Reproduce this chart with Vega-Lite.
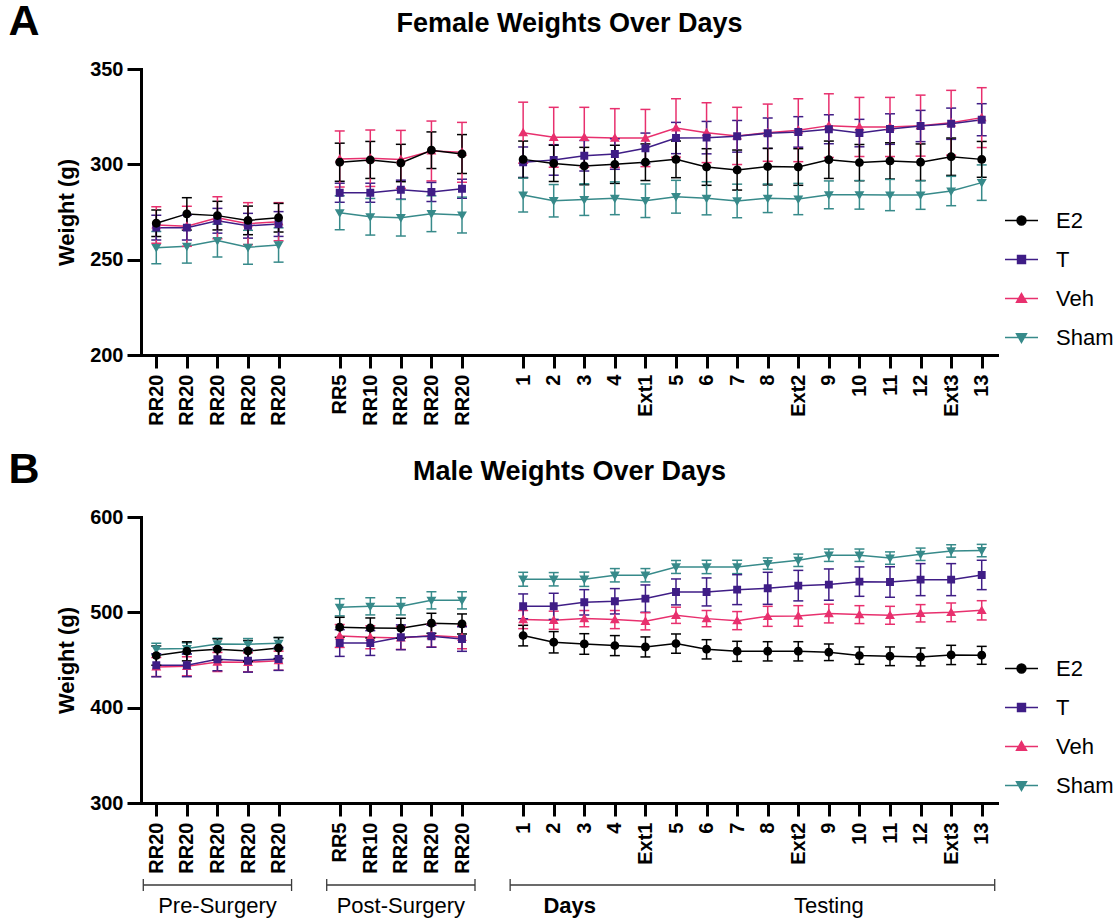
{
"$schema": "https://vega.github.io/schema/vega-lite/v6.json",
"padding": {"left": 8, "right": 5, "top": 1, "bottom": 2},
"config": {"font": "Liberation Sans", "view": {"stroke": null}, "axis": {"labelColor": "black", "titleColor": "black", "domainColor": "black", "tickColor": "black", "grid": false}},
"spacing": 5,
"resolve": {"scale": {"color": "independent", "fill": "independent", "stroke": "independent", "shape": "independent"}, "legend": {"color": "independent", "fill": "independent", "stroke": "independent", "shape": "independent"}},
"datasets": {
"brackets": [{"start": "RR20_a", "end": "RR20_e"}, {"start": "RR5_f", "end": "RR20_j"}, {"start": "1", "end": "13"}],
"grouplabels": [{"label": "Pre-Surgery", "at": "RR20_c"}, {"label": "Post-Surgery", "at": "RR20_h"}, {"label": "Days", "at": "2"}, {"label": "Testing", "at": "9"}],
"w": [
{"sex":"F","group":"Sham","day":"RR20_a","phase":"pre","mean":256.3,"sem":8.5},
{"sex":"F","group":"Sham","day":"RR20_b","phase":"pre","mean":257.0,"sem":8.8},
{"sex":"F","group":"Sham","day":"RR20_c","phase":"pre","mean":260.0,"sem":8.6},
{"sex":"F","group":"Sham","day":"RR20_d","phase":"pre","mean":256.5,"sem":8.9},
{"sex":"F","group":"Sham","day":"RR20_e","phase":"pre","mean":257.7,"sem":9.0},
{"sex":"F","group":"Sham","day":"RR5_f","phase":"post","mean":274.6,"sem":8.9},
{"sex":"F","group":"Sham","day":"RR10_g","phase":"post","mean":272.5,"sem":9.6},
{"sex":"F","group":"Sham","day":"RR20_h","phase":"post","mean":272.0,"sem":9.6},
{"sex":"F","group":"Sham","day":"RR20_i","phase":"post","mean":274.1,"sem":9.4},
{"sex":"F","group":"Sham","day":"RR20_j","phase":"post","mean":273.4,"sem":9.4},
{"sex":"F","group":"Sham","day":"1","phase":"test","mean":283.9,"sem":8.9},
{"sex":"F","group":"Sham","day":"2","phase":"test","mean":280.9,"sem":8.5},
{"sex":"F","group":"Sham","day":"3","phase":"test","mean":281.5,"sem":8.3},
{"sex":"F","group":"Sham","day":"4","phase":"test","mean":282.2,"sem":8.6},
{"sex":"F","group":"Sham","day":"Ext1","phase":"test","mean":280.9,"sem":8.8},
{"sex":"F","group":"Sham","day":"5","phase":"test","mean":283.0,"sem":8.6},
{"sex":"F","group":"Sham","day":"6","phase":"test","mean":282.2,"sem":8.7},
{"sex":"F","group":"Sham","day":"7","phase":"test","mean":280.8,"sem":8.8},
{"sex":"F","group":"Sham","day":"8","phase":"test","mean":282.2,"sem":7.5},
{"sex":"F","group":"Sham","day":"Ext2","phase":"test","mean":281.8,"sem":8.2},
{"sex":"F","group":"Sham","day":"9","phase":"test","mean":284.0,"sem":7.3},
{"sex":"F","group":"Sham","day":"10","phase":"test","mean":284.0,"sem":7.5},
{"sex":"F","group":"Sham","day":"11","phase":"test","mean":283.9,"sem":8.2},
{"sex":"F","group":"Sham","day":"12","phase":"test","mean":283.9,"sem":7.5},
{"sex":"F","group":"Sham","day":"Ext3","phase":"test","mean":286.0,"sem":7.7},
{"sex":"F","group":"Sham","day":"13","phase":"test","mean":290.4,"sem":9.3},
{"sex":"F","group":"Veh","day":"RR20_a","phase":"pre","mean":268.2,"sem":9.6},
{"sex":"F","group":"Veh","day":"RR20_b","phase":"pre","mean":267.5,"sem":10.5},
{"sex":"F","group":"Veh","day":"RR20_c","phase":"pre","mean":272.0,"sem":11.0},
{"sex":"F","group":"Veh","day":"RR20_d","phase":"pre","mean":268.9,"sem":11.0},
{"sex":"F","group":"Veh","day":"RR20_e","phase":"pre","mean":269.9,"sem":10.0},
{"sex":"F","group":"Veh","day":"RR5_f","phase":"post","mean":302.8,"sem":14.7},
{"sex":"F","group":"Veh","day":"RR10_g","phase":"post","mean":303.2,"sem":14.8},
{"sex":"F","group":"Veh","day":"RR20_h","phase":"post","mean":302.6,"sem":15.2},
{"sex":"F","group":"Veh","day":"RR20_i","phase":"post","mean":307.0,"sem":15.7},
{"sex":"F","group":"Veh","day":"RR20_j","phase":"post","mean":306.3,"sem":15.7},
{"sex":"F","group":"Veh","day":"1","phase":"test","mean":316.6,"sem":16.0},
{"sex":"F","group":"Veh","day":"2","phase":"test","mean":314.2,"sem":15.7},
{"sex":"F","group":"Veh","day":"3","phase":"test","mean":314.2,"sem":15.7},
{"sex":"F","group":"Veh","day":"4","phase":"test","mean":313.8,"sem":15.4},
{"sex":"F","group":"Veh","day":"Ext1","phase":"test","mean":313.8,"sem":15.0},
{"sex":"F","group":"Veh","day":"5","phase":"test","mean":319.1,"sem":15.3},
{"sex":"F","group":"Veh","day":"6","phase":"test","mean":316.6,"sem":15.7},
{"sex":"F","group":"Veh","day":"7","phase":"test","mean":314.9,"sem":15.0},
{"sex":"F","group":"Veh","day":"8","phase":"test","mean":316.6,"sem":15.0},
{"sex":"F","group":"Veh","day":"Ext2","phase":"test","mean":317.9,"sem":16.5},
{"sex":"F","group":"Veh","day":"9","phase":"test","mean":320.3,"sem":16.7},
{"sex":"F","group":"Veh","day":"10","phase":"test","mean":319.6,"sem":15.5},
{"sex":"F","group":"Veh","day":"11","phase":"test","mean":319.6,"sem":15.5},
{"sex":"F","group":"Veh","day":"12","phase":"test","mean":320.3,"sem":16.0},
{"sex":"F","group":"Veh","day":"Ext3","phase":"test","mean":321.8,"sem":17.0},
{"sex":"F","group":"Veh","day":"13","phase":"test","mean":324.5,"sem":15.7},
{"sex":"F","group":"T","day":"RR20_a","phase":"pre","mean":266.8,"sem":6.5},
{"sex":"F","group":"T","day":"RR20_b","phase":"pre","mean":266.8,"sem":6.5},
{"sex":"F","group":"T","day":"RR20_c","phase":"pre","mean":270.4,"sem":6.5},
{"sex":"F","group":"T","day":"RR20_d","phase":"pre","mean":267.8,"sem":6.5},
{"sex":"F","group":"T","day":"RR20_e","phase":"pre","mean":268.7,"sem":6.5},
{"sex":"F","group":"T","day":"RR5_f","phase":"post","mean":285.1,"sem":5.0},
{"sex":"F","group":"T","day":"RR10_g","phase":"post","mean":285.1,"sem":5.0},
{"sex":"F","group":"T","day":"RR20_h","phase":"post","mean":286.7,"sem":5.0},
{"sex":"F","group":"T","day":"RR20_i","phase":"post","mean":285.5,"sem":5.0},
{"sex":"F","group":"T","day":"RR20_j","phase":"post","mean":287.2,"sem":5.0},
{"sex":"F","group":"T","day":"1","phase":"test","mean":301.1,"sem":8.0},
{"sex":"F","group":"T","day":"2","phase":"test","mean":302.3,"sem":8.0},
{"sex":"F","group":"T","day":"3","phase":"test","mean":304.5,"sem":8.0},
{"sex":"F","group":"T","day":"4","phase":"test","mean":305.4,"sem":8.0},
{"sex":"F","group":"T","day":"Ext1","phase":"test","mean":308.4,"sem":8.0},
{"sex":"F","group":"T","day":"5","phase":"test","mean":313.8,"sem":8.2},
{"sex":"F","group":"T","day":"6","phase":"test","mean":314.0,"sem":8.5},
{"sex":"F","group":"T","day":"7","phase":"test","mean":314.7,"sem":8.3},
{"sex":"F","group":"T","day":"8","phase":"test","mean":316.3,"sem":8.0},
{"sex":"F","group":"T","day":"Ext2","phase":"test","mean":317.0,"sem":8.0},
{"sex":"F","group":"T","day":"9","phase":"test","mean":318.4,"sem":7.6},
{"sex":"F","group":"T","day":"10","phase":"test","mean":316.4,"sem":7.2},
{"sex":"F","group":"T","day":"11","phase":"test","mean":318.5,"sem":8.0},
{"sex":"F","group":"T","day":"12","phase":"test","mean":320.1,"sem":8.2},
{"sex":"F","group":"T","day":"Ext3","phase":"test","mean":321.3,"sem":8.2},
{"sex":"F","group":"T","day":"13","phase":"test","mean":323.4,"sem":8.4},
{"sex":"F","group":"E2","day":"RR20_a","phase":"pre","mean":269.1,"sem":7.0},
{"sex":"F","group":"E2","day":"RR20_b","phase":"pre","mean":274.0,"sem":8.5},
{"sex":"F","group":"E2","day":"RR20_c","phase":"pre","mean":273.1,"sem":7.5},
{"sex":"F","group":"E2","day":"RR20_d","phase":"pre","mean":270.6,"sem":7.5},
{"sex":"F","group":"E2","day":"RR20_e","phase":"pre","mean":272.0,"sem":7.5},
{"sex":"F","group":"E2","day":"RR5_f","phase":"post","mean":301.1,"sem":10.0},
{"sex":"F","group":"E2","day":"RR10_g","phase":"post","mean":302.3,"sem":9.7},
{"sex":"F","group":"E2","day":"RR20_h","phase":"post","mean":300.7,"sem":9.8},
{"sex":"F","group":"E2","day":"RR20_i","phase":"post","mean":307.4,"sem":9.6},
{"sex":"F","group":"E2","day":"RR20_j","phase":"post","mean":305.4,"sem":10.2},
{"sex":"F","group":"E2","day":"1","phase":"test","mean":302.6,"sem":9.6},
{"sex":"F","group":"E2","day":"2","phase":"test","mean":300.5,"sem":9.5},
{"sex":"F","group":"E2","day":"3","phase":"test","mean":299.1,"sem":9.8},
{"sex":"F","group":"E2","day":"4","phase":"test","mean":300.0,"sem":10.0},
{"sex":"F","group":"E2","day":"Ext1","phase":"test","mean":301.1,"sem":9.6},
{"sex":"F","group":"E2","day":"5","phase":"test","mean":302.6,"sem":9.6},
{"sex":"F","group":"E2","day":"6","phase":"test","mean":298.6,"sem":9.6},
{"sex":"F","group":"E2","day":"7","phase":"test","mean":297.0,"sem":10.5},
{"sex":"F","group":"E2","day":"8","phase":"test","mean":298.8,"sem":9.6},
{"sex":"F","group":"E2","day":"Ext2","phase":"test","mean":298.6,"sem":9.6},
{"sex":"F","group":"E2","day":"9","phase":"test","mean":302.4,"sem":9.8},
{"sex":"F","group":"E2","day":"10","phase":"test","mean":300.9,"sem":9.5},
{"sex":"F","group":"E2","day":"11","phase":"test","mean":301.8,"sem":9.5},
{"sex":"F","group":"E2","day":"12","phase":"test","mean":301.1,"sem":9.6},
{"sex":"F","group":"E2","day":"Ext3","phase":"test","mean":304.0,"sem":9.8},
{"sex":"F","group":"E2","day":"13","phase":"test","mean":302.6,"sem":9.4},
{"sex":"M","group":"Sham","day":"RR20_a","phase":"pre","mean":461.5,"sem":6.0},
{"sex":"M","group":"Sham","day":"RR20_b","phase":"pre","mean":462.0,"sem":6.0},
{"sex":"M","group":"Sham","day":"RR20_c","phase":"pre","mean":466.8,"sem":6.0},
{"sex":"M","group":"Sham","day":"RR20_d","phase":"pre","mean":466.5,"sem":6.0},
{"sex":"M","group":"Sham","day":"RR20_e","phase":"pre","mean":467.5,"sem":6.0},
{"sex":"M","group":"Sham","day":"RR5_f","phase":"post","mean":505.3,"sem":9.0},
{"sex":"M","group":"Sham","day":"RR10_g","phase":"post","mean":506.3,"sem":9.0},
{"sex":"M","group":"Sham","day":"RR20_h","phase":"post","mean":506.3,"sem":9.0},
{"sex":"M","group":"Sham","day":"RR20_i","phase":"post","mean":512.6,"sem":9.0},
{"sex":"M","group":"Sham","day":"RR20_j","phase":"post","mean":512.6,"sem":9.0},
{"sex":"M","group":"Sham","day":"1","phase":"test","mean":534.7,"sem":7.3},
{"sex":"M","group":"Sham","day":"2","phase":"test","mean":534.7,"sem":7.0},
{"sex":"M","group":"Sham","day":"3","phase":"test","mean":534.7,"sem":7.5},
{"sex":"M","group":"Sham","day":"4","phase":"test","mean":538.9,"sem":7.0},
{"sex":"M","group":"Sham","day":"Ext1","phase":"test","mean":538.9,"sem":7.0},
{"sex":"M","group":"Sham","day":"5","phase":"test","mean":547.6,"sem":6.8},
{"sex":"M","group":"Sham","day":"6","phase":"test","mean":547.6,"sem":7.0},
{"sex":"M","group":"Sham","day":"7","phase":"test","mean":547.6,"sem":7.0},
{"sex":"M","group":"Sham","day":"8","phase":"test","mean":551.1,"sem":6.0},
{"sex":"M","group":"Sham","day":"Ext2","phase":"test","mean":554.6,"sem":6.5},
{"sex":"M","group":"Sham","day":"9","phase":"test","mean":559.9,"sem":6.5},
{"sex":"M","group":"Sham","day":"10","phase":"test","mean":559.9,"sem":6.5},
{"sex":"M","group":"Sham","day":"11","phase":"test","mean":556.9,"sem":6.5},
{"sex":"M","group":"Sham","day":"12","phase":"test","mean":560.9,"sem":6.5},
{"sex":"M","group":"Sham","day":"Ext3","phase":"test","mean":564.4,"sem":6.5},
{"sex":"M","group":"Sham","day":"13","phase":"test","mean":564.8,"sem":6.5},
{"sex":"M","group":"Veh","day":"RR20_a","phase":"pre","mean":442.7,"sem":10.0},
{"sex":"M","group":"Veh","day":"RR20_b","phase":"pre","mean":443.4,"sem":10.0},
{"sex":"M","group":"Veh","day":"RR20_c","phase":"pre","mean":447.9,"sem":10.0},
{"sex":"M","group":"Veh","day":"RR20_d","phase":"pre","mean":447.6,"sem":10.0},
{"sex":"M","group":"Veh","day":"RR20_e","phase":"pre","mean":449.3,"sem":10.0},
{"sex":"M","group":"Veh","day":"RR5_f","phase":"post","mean":475.2,"sem":12.0},
{"sex":"M","group":"Veh","day":"RR10_g","phase":"post","mean":473.8,"sem":12.0},
{"sex":"M","group":"Veh","day":"RR20_h","phase":"post","mean":473.1,"sem":12.0},
{"sex":"M","group":"Veh","day":"RR20_i","phase":"post","mean":475.6,"sem":12.0},
{"sex":"M","group":"Veh","day":"RR20_j","phase":"post","mean":473.8,"sem":12.0},
{"sex":"M","group":"Veh","day":"1","phase":"test","mean":492.4,"sem":9.5},
{"sex":"M","group":"Veh","day":"2","phase":"test","mean":491.7,"sem":9.5},
{"sex":"M","group":"Veh","day":"3","phase":"test","mean":493.4,"sem":8.5},
{"sex":"M","group":"Veh","day":"4","phase":"test","mean":492.4,"sem":9.5},
{"sex":"M","group":"Veh","day":"Ext1","phase":"test","mean":490.6,"sem":9.0},
{"sex":"M","group":"Veh","day":"5","phase":"test","mean":496.9,"sem":8.5},
{"sex":"M","group":"Veh","day":"6","phase":"test","mean":493.4,"sem":8.5},
{"sex":"M","group":"Veh","day":"7","phase":"test","mean":491.3,"sem":9.5},
{"sex":"M","group":"Veh","day":"8","phase":"test","mean":495.8,"sem":10.5},
{"sex":"M","group":"Veh","day":"Ext2","phase":"test","mean":496.2,"sem":10.8},
{"sex":"M","group":"Veh","day":"9","phase":"test","mean":498.7,"sem":9.8},
{"sex":"M","group":"Veh","day":"10","phase":"test","mean":497.6,"sem":9.4},
{"sex":"M","group":"Veh","day":"11","phase":"test","mean":496.9,"sem":9.4},
{"sex":"M","group":"Veh","day":"12","phase":"test","mean":499.0,"sem":9.1},
{"sex":"M","group":"Veh","day":"Ext3","phase":"test","mean":500.0,"sem":9.8},
{"sex":"M","group":"Veh","day":"13","phase":"test","mean":502.1,"sem":10.1},
{"sex":"M","group":"T","day":"RR20_a","phase":"pre","mean":444.5,"sem":12.0},
{"sex":"M","group":"T","day":"RR20_b","phase":"pre","mean":444.5,"sem":12.0},
{"sex":"M","group":"T","day":"RR20_c","phase":"pre","mean":450.7,"sem":12.0},
{"sex":"M","group":"T","day":"RR20_d","phase":"pre","mean":449.3,"sem":12.0},
{"sex":"M","group":"T","day":"RR20_e","phase":"pre","mean":451.1,"sem":12.0},
{"sex":"M","group":"T","day":"RR5_f","phase":"post","mean":467.8,"sem":14.0},
{"sex":"M","group":"T","day":"RR10_g","phase":"post","mean":467.8,"sem":13.0},
{"sex":"M","group":"T","day":"RR20_h","phase":"post","mean":473.8,"sem":13.0},
{"sex":"M","group":"T","day":"RR20_i","phase":"post","mean":474.9,"sem":11.5},
{"sex":"M","group":"T","day":"RR20_j","phase":"post","mean":472.0,"sem":12.9},
{"sex":"M","group":"T","day":"1","phase":"test","mean":506.3,"sem":13.0},
{"sex":"M","group":"T","day":"2","phase":"test","mean":506.3,"sem":13.7},
{"sex":"M","group":"T","day":"3","phase":"test","mean":510.5,"sem":13.3},
{"sex":"M","group":"T","day":"4","phase":"test","mean":511.6,"sem":13.3},
{"sex":"M","group":"T","day":"Ext1","phase":"test","mean":514.4,"sem":14.3},
{"sex":"M","group":"T","day":"5","phase":"test","mean":521.4,"sem":13.6},
{"sex":"M","group":"T","day":"6","phase":"test","mean":521.4,"sem":14.7},
{"sex":"M","group":"T","day":"7","phase":"test","mean":523.8,"sem":15.7},
{"sex":"M","group":"T","day":"8","phase":"test","mean":525.2,"sem":16.8},
{"sex":"M","group":"T","day":"Ext2","phase":"test","mean":528.0,"sem":16.0},
{"sex":"M","group":"T","day":"9","phase":"test","mean":529.1,"sem":16.4},
{"sex":"M","group":"T","day":"10","phase":"test","mean":532.2,"sem":15.4},
{"sex":"M","group":"T","day":"11","phase":"test","mean":531.8,"sem":16.0},
{"sex":"M","group":"T","day":"12","phase":"test","mean":534.3,"sem":16.8},
{"sex":"M","group":"T","day":"Ext3","phase":"test","mean":534.3,"sem":16.8},
{"sex":"M","group":"T","day":"13","phase":"test","mean":539.2,"sem":15.4},
{"sex":"M","group":"E2","day":"RR20_a","phase":"pre","mean":454.6,"sem":10.0},
{"sex":"M","group":"E2","day":"RR20_b","phase":"pre","mean":459.1,"sem":10.0},
{"sex":"M","group":"E2","day":"RR20_c","phase":"pre","mean":461.2,"sem":11.0},
{"sex":"M","group":"E2","day":"RR20_d","phase":"pre","mean":459.4,"sem":11.0},
{"sex":"M","group":"E2","day":"RR20_e","phase":"pre","mean":462.6,"sem":11.0},
{"sex":"M","group":"E2","day":"RR5_f","phase":"post","mean":484.3,"sem":10.5},
{"sex":"M","group":"E2","day":"RR10_g","phase":"post","mean":483.6,"sem":10.5},
{"sex":"M","group":"E2","day":"RR20_h","phase":"post","mean":483.3,"sem":10.5},
{"sex":"M","group":"E2","day":"RR20_i","phase":"post","mean":488.5,"sem":10.5},
{"sex":"M","group":"E2","day":"RR20_j","phase":"post","mean":487.8,"sem":10.5},
{"sex":"M","group":"E2","day":"1","phase":"test","mean":475.6,"sem":10.8},
{"sex":"M","group":"E2","day":"2","phase":"test","mean":468.6,"sem":11.2},
{"sex":"M","group":"E2","day":"3","phase":"test","mean":466.8,"sem":10.8},
{"sex":"M","group":"E2","day":"4","phase":"test","mean":465.1,"sem":10.5},
{"sex":"M","group":"E2","day":"Ext1","phase":"test","mean":463.7,"sem":10.5},
{"sex":"M","group":"E2","day":"5","phase":"test","mean":467.2,"sem":10.1},
{"sex":"M","group":"E2","day":"6","phase":"test","mean":461.2,"sem":10.1},
{"sex":"M","group":"E2","day":"7","phase":"test","mean":459.1,"sem":10.5},
{"sex":"M","group":"E2","day":"8","phase":"test","mean":459.1,"sem":10.1},
{"sex":"M","group":"E2","day":"Ext2","phase":"test","mean":459.1,"sem":10.1},
{"sex":"M","group":"E2","day":"9","phase":"test","mean":458.1,"sem":8.7},
{"sex":"M","group":"E2","day":"10","phase":"test","mean":454.6,"sem":9.1},
{"sex":"M","group":"E2","day":"11","phase":"test","mean":453.9,"sem":9.8},
{"sex":"M","group":"E2","day":"12","phase":"test","mean":453.2,"sem":9.4},
{"sex":"M","group":"E2","day":"Ext3","phase":"test","mean":455.3,"sem":10.1},
{"sex":"M","group":"E2","day":"13","phase":"test","mean":454.9,"sem":9.4}
]},
"vconcat": [
{
 "width": 856, "height": 286,
 "data": {"name": "w"},
 "title": {"text": "A", "orient": "left", "angle": 0, "anchor": "end", "baseline": "top", "align": "right", "fontSize": 43, "fontWeight": "bold", "color": "black", "offset": 14, "dy": -8, "dx": 29},
 "transform": [{"filter": "datum.sex == 'F'"}],
 "resolve": {"axis": {"x": "independent"}},
 "layer": [
  {"mark": {"type": "line", "strokeWidth": 1.5},
   "encoding": {
    "x": {"field": "day", "type": "ordinal", "scale": {"type": "point", "padding": 0.5, "domain": ["RR20_a","RR20_b","RR20_c","RR20_d","RR20_e","_gap1","RR5_f","RR10_g","RR20_h","RR20_i","RR20_j","_gap2","1","2","3","4","Ext1","5","6","7","8","Ext2","9","10","11","12","Ext3","13"]},
      "axis": {"values": ["RR20_a","RR20_b","RR20_c","RR20_d","RR20_e","RR5_f","RR10_g","RR20_h","RR20_i","RR20_j","1","2","3","4","Ext1","5","6","7","8","Ext2","9","10","11","12","Ext3","13"], "labelExpr": "split(datum.value, '_')[0]", "labelAngle": 270, "labelFontSize": 20, "labelFontWeight": "bold", "labelPadding": 6, "tickSize": 13, "tickWidth": 3, "domainWidth": 3, "domainCap": "square", "title": " ", "titleFontSize": 18, "titlePadding": 0}},
    "y": {"field": "mean", "type": "quantitative", "title": "Weight (g)", "scale": {"domain": [200, 350], "nice": false, "zero": false},
      "axis": {"values": [200, 250, 300, 350], "title": "Weight (g)", "titleFontSize": 22, "titleFontWeight": "bold", "titlePadding": 11, "labelFontSize": 20, "labelFontWeight": "bold", "labelPadding": 4, "tickSize": 14, "tickWidth": 3, "domainWidth": 3, "domainCap": "square"}},
    "color": {"field": "group", "type": "nominal", "scale": {"domain": ["Sham","Veh","T","E2"], "range": ["#378a8a","#e8306e","#3f1d86","#000000"]}, "legend": null},
    "detail": {"field": "phase"},
    "order": {"value": null}
   }},
  {"mark": {"type": "errorbar", "ticks": {"opacity": 1}, "size": 10, "thickness": 1.5},
   "encoding": {
    "x": {"field": "day", "type": "ordinal", "axis": null},
    "y": {"field": "mean", "type": "quantitative", "title": "Weight (g)"},
    "yError": {"field": "sem"},
    "color": {"field": "group", "type": "nominal", "legend": null}
   }},
  {"mark": {"type": "point", "filled": true, "opacity": 1, "size": 1089, "strokeWidth": 1.5},
   "encoding": {
    "x": {"field": "day", "type": "ordinal", "axis": null},
    "y": {"field": "mean", "type": "quantitative", "title": "Weight (g)"},
    "shape": {"field": "group", "type": "nominal", "scale": {"domain": ["E2","T","Veh","Sham"], "range": ["M-1,0L1,0M0.27,0A0.27,0.27,0,1,1,-0.27,0A0.27,0.27,0,1,1,0.27,0Z","M-1,0L1,0M-0.24,-0.24L0.24,-0.24L0.24,0.24L-0.24,0.24Z","M-1,0L1,0M0,-0.3L0.3,0.22L-0.3,0.22Z","M-1,0L1,0M0,0.3L0.3,-0.22L-0.3,-0.22Z"]},
      "legend": {"orient": "none", "legendX": 863, "legendY": 134, "title": null, "symbolSize": 1089, "symbolStrokeWidth": 1.5, "labelFontSize": 22, "labelOffset": 17, "rowPadding": 10, "labelColor": "black"}},
    "fill": {"field": "group", "type": "nominal", "scale": {"domain": ["E2","T","Veh","Sham"], "range": ["#000000","#3f1d86","#e8306e","#378a8a"]},
      "legend": {"orient": "none", "legendX": 863, "legendY": 134, "title": null, "symbolSize": 1089, "symbolStrokeWidth": 1.5, "labelFontSize": 22, "labelOffset": 17, "rowPadding": 10, "labelColor": "black"}}
   }},
  {"transform": [{"filter": "false"}],
   "mark": {"type": "point", "filled": true, "opacity": 1, "size": 1089, "strokeWidth": 1.5},
   "encoding": {
    "x": {"field": "day", "type": "ordinal", "axis": {"orient": "top", "domain": false, "ticks": false, "labels": false, "grid": false, "title": "Female Weights Over Days", "titleFontSize": 27, "titleFontWeight": "bold", "titlePadding": 32}},
    "y": {"field": "mean", "type": "quantitative", "title": "Weight (g)"},
    "shape": {"field": "group", "type": "nominal",
      "legend": {"orient": "none", "legendX": 863, "legendY": 134, "title": null, "symbolSize": 1089, "symbolStrokeWidth": 1.5, "labelFontSize": 22, "labelOffset": 17, "rowPadding": 10, "labelColor": "black"}},
    "fill": {"field": "group", "type": "nominal",
      "legend": {"orient": "none", "legendX": 863, "legendY": 134, "title": null, "symbolSize": 1089, "symbolStrokeWidth": 1.5, "labelFontSize": 22, "labelOffset": 17, "rowPadding": 10, "labelColor": "black"}},
    "stroke": {"field": "group", "type": "nominal", "scale": {"domain": ["E2","T","Veh","Sham"], "range": ["#000000","#3f1d86","#e8306e","#378a8a"]},
      "legend": {"orient": "none", "legendX": 863, "legendY": 134, "title": null, "symbolSize": 1089, "symbolStrokeWidth": 1.5, "labelFontSize": 22, "labelOffset": 17, "rowPadding": 10, "labelColor": "black"}}
   }}
 ]
},
{
 "width": 856, "height": 286,
 "data": {"name": "w"},
 "title": {"text": "B", "orient": "left", "angle": 0, "anchor": "end", "baseline": "top", "align": "right", "fontSize": 43, "fontWeight": "bold", "color": "black", "offset": 14, "dy": -8, "dx": 29},
 "transform": [{"filter": "datum.sex == 'M'"}],
 "resolve": {"axis": {"x": "independent"}},
 "layer": [
  {"mark": {"type": "line", "strokeWidth": 1.5},
   "encoding": {
    "x": {"field": "day", "type": "ordinal", "scale": {"type": "point", "padding": 0.5, "domain": ["RR20_a","RR20_b","RR20_c","RR20_d","RR20_e","_gap1","RR5_f","RR10_g","RR20_h","RR20_i","RR20_j","_gap2","1","2","3","4","Ext1","5","6","7","8","Ext2","9","10","11","12","Ext3","13"]},
      "axis": {"values": ["RR20_a","RR20_b","RR20_c","RR20_d","RR20_e","RR5_f","RR10_g","RR20_h","RR20_i","RR20_j","1","2","3","4","Ext1","5","6","7","8","Ext2","9","10","11","12","Ext3","13"], "labelExpr": "split(datum.value, '_')[0]", "labelAngle": 270, "labelFontSize": 20, "labelFontWeight": "bold", "labelPadding": 6, "tickSize": 13, "tickWidth": 3, "domainWidth": 3, "domainCap": "square", "title": null}},
    "y": {"field": "mean", "type": "quantitative", "title": "Weight (g)", "scale": {"domain": [300, 600], "nice": false, "zero": false},
      "axis": {"values": [300, 400, 500, 600], "title": "Weight (g)", "titleFontSize": 22, "titleFontWeight": "bold", "titlePadding": 11, "labelFontSize": 20, "labelFontWeight": "bold", "labelPadding": 4, "tickSize": 14, "tickWidth": 3, "domainWidth": 3, "domainCap": "square"}},
    "color": {"field": "group", "type": "nominal", "scale": {"domain": ["Sham","Veh","T","E2"], "range": ["#378a8a","#e8306e","#3f1d86","#000000"]}, "legend": null},
    "detail": {"field": "phase"},
    "order": {"value": null}
   }},
  {"mark": {"type": "errorbar", "ticks": {"opacity": 1}, "size": 10, "thickness": 1.5},
   "encoding": {
    "x": {"field": "day", "type": "ordinal", "axis": null},
    "y": {"field": "mean", "type": "quantitative", "title": "Weight (g)"},
    "yError": {"field": "sem"},
    "color": {"field": "group", "type": "nominal", "legend": null}
   }},
  {"mark": {"type": "point", "filled": true, "opacity": 1, "size": 1089, "strokeWidth": 1.5},
   "encoding": {
    "x": {"field": "day", "type": "ordinal", "axis": null},
    "y": {"field": "mean", "type": "quantitative", "title": "Weight (g)"},
    "shape": {"field": "group", "type": "nominal", "scale": {"domain": ["E2","T","Veh","Sham"], "range": ["M-1,0L1,0M0.27,0A0.27,0.27,0,1,1,-0.27,0A0.27,0.27,0,1,1,0.27,0Z","M-1,0L1,0M-0.24,-0.24L0.24,-0.24L0.24,0.24L-0.24,0.24Z","M-1,0L1,0M0,-0.3L0.3,0.22L-0.3,0.22Z","M-1,0L1,0M0,0.3L0.3,-0.22L-0.3,-0.22Z"]},
      "legend": {"orient": "none", "legendX": 863, "legendY": 134, "title": null, "symbolSize": 1089, "symbolStrokeWidth": 1.5, "labelFontSize": 22, "labelOffset": 17, "rowPadding": 10, "labelColor": "black"}},
    "fill": {"field": "group", "type": "nominal", "scale": {"domain": ["E2","T","Veh","Sham"], "range": ["#000000","#3f1d86","#e8306e","#378a8a"]},
      "legend": {"orient": "none", "legendX": 863, "legendY": 134, "title": null, "symbolSize": 1089, "symbolStrokeWidth": 1.5, "labelFontSize": 22, "labelOffset": 17, "rowPadding": 10, "labelColor": "black"}}
   }},
  {"transform": [{"filter": "false"}],
   "mark": {"type": "point", "filled": true, "opacity": 1, "size": 1089, "strokeWidth": 1.5},
   "encoding": {
    "x": {"field": "day", "type": "ordinal", "axis": {"orient": "top", "domain": false, "ticks": false, "labels": false, "grid": false, "title": "Male Weights Over Days", "titleFontSize": 27, "titleFontWeight": "bold", "titlePadding": 32}},
    "y": {"field": "mean", "type": "quantitative", "title": "Weight (g)"},
    "shape": {"field": "group", "type": "nominal",
      "legend": {"orient": "none", "legendX": 863, "legendY": 134, "title": null, "symbolSize": 1089, "symbolStrokeWidth": 1.5, "labelFontSize": 22, "labelOffset": 17, "rowPadding": 10, "labelColor": "black"}},
    "fill": {"field": "group", "type": "nominal",
      "legend": {"orient": "none", "legendX": 863, "legendY": 134, "title": null, "symbolSize": 1089, "symbolStrokeWidth": 1.5, "labelFontSize": 22, "labelOffset": 17, "rowPadding": 10, "labelColor": "black"}},
    "stroke": {"field": "group", "type": "nominal", "scale": {"domain": ["E2","T","Veh","Sham"], "range": ["#000000","#3f1d86","#e8306e","#378a8a"]},
      "legend": {"orient": "none", "legendX": 863, "legendY": 134, "title": null, "symbolSize": 1089, "symbolStrokeWidth": 1.5, "labelFontSize": 22, "labelOffset": 17, "rowPadding": 10, "labelColor": "black"}}
   }}
 ]
},
{
 "width": 856, "height": 12,
 "layer": [
  {"data": {"name": "brackets"},
   "mark": {"type": "rule", "color": "#3a3a3a", "strokeWidth": 1.3, "xOffset": -13, "x2Offset": 13},
   "encoding": {
    "x": {"field": "start", "type": "ordinal", "scale": {"type": "point", "padding": 0.5, "domain": ["RR20_a","RR20_b","RR20_c","RR20_d","RR20_e","_gap1","RR5_f","RR10_g","RR20_h","RR20_i","RR20_j","_gap2","1","2","3","4","Ext1","5","6","7","8","Ext2","9","10","11","12","Ext3","13"]}, "axis": null},
    "x2": {"field": "end"}
   }},
  {"data": {"name": "brackets"},
   "mark": {"type": "tick", "orient": "vertical", "color": "#3a3a3a", "thickness": 1.3, "size": 12, "xOffset": -13, "opacity": 1},
   "encoding": {"x": {"field": "start", "type": "ordinal"}}},
  {"data": {"name": "brackets"},
   "mark": {"type": "tick", "orient": "vertical", "color": "#3a3a3a", "thickness": 1.3, "size": 12, "xOffset": 13, "opacity": 1},
   "encoding": {"x": {"field": "end", "type": "ordinal"}}},
  {"data": {"name": "grouplabels"},
   "transform": [{"filter": "datum.label != 'Days'"}],
   "mark": {"type": "text", "dy": 21, "fontSize": 22, "color": "black"},
   "encoding": {"x": {"field": "at", "type": "ordinal"}, "text": {"field": "label"}}},
  {"data": {"name": "grouplabels"},
   "transform": [{"filter": "datum.label == 'Days'"}],
   "mark": {"type": "text", "dy": 21, "dx": 16, "fontSize": 22, "fontWeight": "bold", "color": "black"},
   "encoding": {"x": {"field": "at", "type": "ordinal"}, "text": {"field": "label"}}}
 ]
}
]
}
